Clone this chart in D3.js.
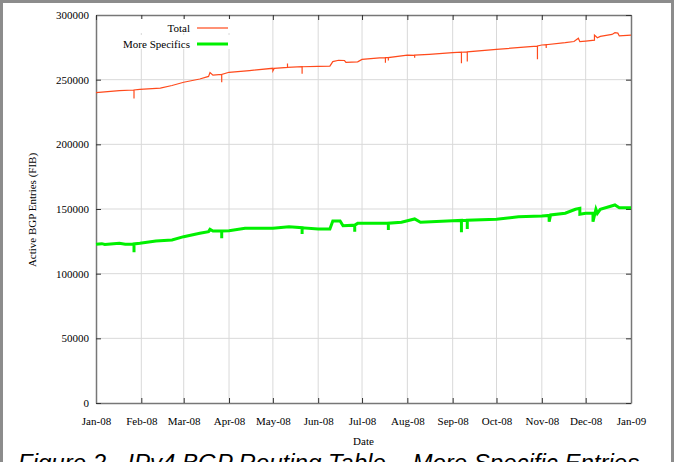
<!DOCTYPE html>
<html lang="en">
<head>
<meta charset="utf-8">
<title>IPv4 BGP Routing Table - More Specific Entries</title>
<script src="https://d3js.org/d3.v7.min.js"></script>
<style>
  body { margin: 0; background: #fff; }
  svg text { font-family: "Liberation Serif", "DejaVu Serif", serif; }
</style>
</head>
<body>
<script>
// month tick labels along the x axis
var monthLabels = ["Jan-08", "Feb-08", "Mar-08", "Apr-08", "May-08", "Jun-08", "Jul-08",
                   "Aug-08", "Sep-08", "Oct-08", "Nov-08", "Dec-08", "Jan-09"];
var yTicks = [0, 50000, 100000, 150000, 200000, 250000, 300000];

// Total FIB entries (date, entries) - repeated dates draw the short spikes
var totalSeries = [
  ["2008-01-01", 240000], ["2008-01-11", 241000], ["2008-01-17", 241500],
  ["2008-01-27", 242000], ["2008-01-27", 235500], ["2008-01-27", 242000],
  ["2008-01-31", 242500], ["2008-02-14", 243500], ["2008-02-22", 245500],
  ["2008-03-01", 248000], ["2008-03-12", 250500], ["2008-03-18", 252500],
  ["2008-03-19", 255500], ["2008-03-21", 253500], ["2008-03-27", 254000],
  ["2008-03-27", 248000], ["2008-03-27", 254000], ["2008-04-01", 255700],
  ["2008-04-15", 257000], ["2008-05-01", 258800], ["2008-05-01", 256800],
  ["2008-05-02", 258800], ["2008-05-11", 259500], ["2008-05-11", 262500],
  ["2008-05-11", 259500], ["2008-05-21", 260000], ["2008-05-21", 254500],
  ["2008-05-21", 260000], ["2008-06-01", 260300], ["2008-06-09", 260500],
  ["2008-06-11", 264000], ["2008-06-15", 265000], ["2008-06-19", 264800],
  ["2008-06-20", 263400], ["2008-06-28", 263800], ["2008-07-01", 265700],
  ["2008-07-13", 266800], ["2008-07-17", 267000], ["2008-07-17", 263000],
  ["2008-07-17", 267000], ["2008-07-19", 267100], ["2008-07-19", 264800],
  ["2008-07-19", 267100], ["2008-08-01", 269000], ["2008-08-06", 268800],
  ["2008-08-06", 267000], ["2008-08-06", 269000], ["2008-08-16", 269600],
  ["2008-09-01", 270900], ["2008-09-07", 271200], ["2008-09-07", 262600],
  ["2008-09-07", 271200], ["2008-09-11", 271500], ["2008-09-11", 264000],
  ["2008-09-11", 271500], ["2008-10-01", 273400], ["2008-10-24", 275500],
  ["2008-10-29", 276000], ["2008-10-29", 265700], ["2008-10-29", 276000],
  ["2008-11-01", 276800], ["2008-11-04", 277000], ["2008-11-04", 274500],
  ["2008-11-04", 277000], ["2008-11-17", 278600], ["2008-11-23", 279500],
  ["2008-11-26", 282000], ["2008-11-27", 279400], ["2008-12-01", 279800],
  ["2008-12-07", 280500], ["2008-12-07", 284500], ["2008-12-09", 282400],
  ["2008-12-11", 283500], ["2008-12-19", 285000], ["2008-12-21", 286300],
  ["2008-12-23", 286000], ["2008-12-24", 283800], ["2009-01-01", 284500]
];

// More specific prefixes (date, entries)
var specificsSeries = [
  ["2008-01-01", 122700], ["2008-01-05", 123200], ["2008-01-07", 122600],
  ["2008-01-11", 123000], ["2008-01-17", 123500], ["2008-01-21", 122800],
  ["2008-01-27", 123000], ["2008-01-27", 116500], ["2008-01-27", 123000],
  ["2008-01-31", 123500], ["2008-02-11", 125300], ["2008-02-22", 126000],
  ["2008-03-01", 128600], ["2008-03-12", 131200], ["2008-03-18", 132500],
  ["2008-03-19", 134300], ["2008-03-21", 133000], ["2008-03-27", 133000],
  ["2008-03-27", 127300], ["2008-03-27", 133000], ["2008-04-01", 133200],
  ["2008-04-12", 135100], ["2008-05-01", 135100], ["2008-05-12", 136300],
  ["2008-05-21", 135500], ["2008-05-21", 130700], ["2008-05-21", 135500],
  ["2008-06-01", 134500], ["2008-06-09", 134500], ["2008-06-11", 140700],
  ["2008-06-16", 140700], ["2008-06-18", 137100], ["2008-06-26", 137500],
  ["2008-06-26", 132400], ["2008-06-26", 137500], ["2008-06-28", 138900],
  ["2008-07-15", 138900], ["2008-07-19", 139000], ["2008-07-19", 133800],
  ["2008-07-19", 139000], ["2008-07-28", 139700], ["2008-08-06", 142300],
  ["2008-08-10", 139700], ["2008-09-01", 141000], ["2008-09-07", 141200],
  ["2008-09-07", 132000], ["2008-09-07", 141200], ["2008-09-11", 141300],
  ["2008-09-11", 134500], ["2008-09-11", 141300], ["2008-10-01", 142000],
  ["2008-10-16", 144000], ["2008-11-01", 144600], ["2008-11-06", 145000],
  ["2008-11-06", 140200], ["2008-11-07", 145400], ["2008-11-17", 146700],
  ["2008-11-24", 149800], ["2008-11-27", 150500], ["2008-11-27", 145900],
  ["2008-12-01", 146700], ["2008-12-06", 146900], ["2008-12-06", 140200],
  ["2008-12-08", 149800], ["2008-12-09", 146700], ["2008-12-11", 149800],
  ["2008-12-21", 153100], ["2008-12-24", 151000], ["2009-01-01", 151000]
];

var width = 675, height = 462;
var margin = {top: 15, right: 44, bottom: 59, left: 96};

var parse = d3.timeParse("%Y-%m-%d");

var svg = d3.select("body").append("svg")
    .attr("width", width)
    .attr("height", height);

svg.append("rect")
    .attr("width", width).attr("height", height)
    .attr("fill", "#fff");

var x = d3.scaleTime()
    .domain([parse("2008-01-01"), parse("2009-01-01")])
    .range([margin.left, width - margin.right]);

var y = d3.scaleLinear()
    .domain([0, 300000])
    .range([height - margin.bottom, margin.top]);

var monthTicks = d3.timeMonth.range(parse("2008-01-01"), parse("2009-01-02"));

// grid
svg.append("g").selectAll("line")
    .data(monthTicks.slice(1, -1))
    .enter().append("line")
    .attr("x1", function(d) { return x(d); })
    .attr("x2", function(d) { return x(d); })
    .attr("y1", y(0)).attr("y2", y(300000))
    .attr("stroke", "#d9d9d9");

svg.append("g").selectAll("line")
    .data(yTicks.slice(1, -1))
    .enter().append("line")
    .attr("x1", x.range()[0]).attr("x2", x.range()[1])
    .attr("y1", function(d) { return y(d); })
    .attr("y2", function(d) { return y(d); })
    .attr("stroke", "#d9d9d9");

// axes: bottom/left with labels, mirrored ticks top/right
var xAxis = d3.axisBottom(x).tickValues(monthTicks)
    .tickFormat(function(d, i) { return monthLabels[i]; })
    .tickSizeInner(-5).tickSizeOuter(0).tickPadding(14);
var yAxis = d3.axisLeft(y).tickValues(yTicks)
    .tickFormat(d3.format("d"))
    .tickSizeInner(-5).tickSizeOuter(0).tickPadding(7);

var gx = svg.append("g")
    .attr("transform", "translate(0," + y(0) + ")")
    .call(xAxis);
var gy = svg.append("g")
    .attr("transform", "translate(" + x.range()[0] + ",0)")
    .call(yAxis);

svg.append("g")
    .attr("transform", "translate(0," + y(300000) + ")")
    .call(d3.axisTop(x).tickValues(monthTicks).tickFormat("").tickSizeInner(-5).tickSizeOuter(0));
svg.append("g")
    .attr("transform", "translate(" + x.range()[1] + ",0)")
    .call(d3.axisRight(y).tickValues(yTicks).tickFormat("").tickSizeInner(-5).tickSizeOuter(0));

svg.selectAll(".domain").attr("stroke", "#777").attr("stroke-width", 1.5);
svg.selectAll(".tick line").attr("stroke", "#333");
gx.selectAll("text").attr("font-size", 11).attr("fill", "#000")
    .style("font-family", "Liberation Serif, serif");
gy.selectAll("text").attr("font-size", 11).attr("fill", "#000")
    .style("font-family", "Liberation Serif, serif");

// series
var line = d3.line()
    .x(function(d) { return x(parse(d[0])); })
    .y(function(d) { return y(d[1]); });

svg.append("path")
    .datum(specificsSeries)
    .attr("fill", "none")
    .attr("stroke", "#00f000")
    .attr("stroke-width", 3)
    .attr("d", line);

svg.append("path")
    .datum(totalSeries)
    .attr("fill", "none")
    .attr("stroke", "#ff4a1c")
    .attr("stroke-width", 1.2)
    .attr("d", line);

// legend
var legend = svg.append("g");
var legendItems = [
  {name: "Total", color: "#ff4a1c", w: 1.2},
  {name: "More Specifics", color: "#00f000", w: 3}
];
legendItems.forEach(function(item, i) {
  var ly = 28 + i * 16;
  legend.append("rect")
      .attr("x", 120).attr("y", ly - 9).attr("width", 112).attr("height", 14)
      .attr("fill", "#fff");
  legend.append("text")
      .attr("x", 190).attr("y", ly + 4)
      .attr("text-anchor", "end")
      .attr("font-size", 11)
      .text(item.name);
  legend.append("line")
      .attr("x1", 197).attr("x2", 228)
      .attr("y1", ly).attr("y2", ly)
      .attr("stroke", item.color)
      .attr("stroke-width", item.w);
});

// axis titles
svg.append("text")
    .attr("x", (x.range()[0] + x.range()[1]) / 2)
    .attr("y", 445)
    .attr("text-anchor", "middle")
    .attr("font-size", 11)
    .text("Date");

svg.append("text")
    .attr("transform", "translate(36,210) rotate(-90)")
    .attr("text-anchor", "middle")
    .attr("font-size", 11)
    .text("Active BGP Entries (FIB)");

// figure caption (cut off by the bottom edge, as in the original)
svg.append("text")
    .attr("x", 18).attr("y", 471)
    .attr("font-size", 24)
    .attr("font-style", "italic")
    .style("font-family", "Liberation Sans, Arial, sans-serif")
    .text("Figure 2 - IPv4 BGP Routing Table \u2013 More Specific Entries");

// outer frame
svg.append("rect")
    .attr("x", 1.5).attr("y", 1.5)
    .attr("width", 671).attr("height", height + 10)
    .attr("fill", "none")
    .attr("stroke", "#8c8c8c")
    .attr("stroke-width", 3);
</script>
</body>
</html>
